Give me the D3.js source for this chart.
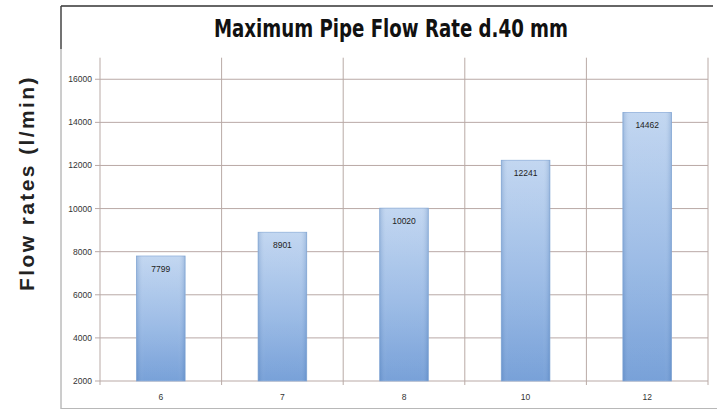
<!DOCTYPE html>
<html><head><meta charset="utf-8">
<script src="https://cdn.jsdelivr.net/npm/d3@7"></script>
<style>body{margin:0;background:#fff}svg{display:block}</style>
</head><body>
<svg id="c" width="717" height="410"></svg>
<script>
const categories = ["6","7","8","10","12"];
const values = [7799, 8901, 10020, 12241, 14462];
const yTicks = [2000,4000,6000,8000,10000,12000,14000,16000];
const title = "Maximum Pipe Flow Rate d.40 mm";
const yTitle = "Flow rates (l/min)";

const svg = d3.select("#c");
const L = 100, R = 708, T = 57.7, B = 381;
const x = d3.scaleBand().domain(categories).range([L, R]).paddingInner(0.6).paddingOuter(0.3);
const xg = d3.scaleBand().domain(categories).range([L, R]);
const y = d3.scaleLinear().domain([2000, 17000]).range([B, T]);

const defs = svg.append("defs");
const g1 = defs.append("linearGradient").attr("id","bv").attr("x1",0).attr("y1",0).attr("x2",0).attr("y2",1);
g1.append("stop").attr("offset","0%").attr("stop-color","#c0d5f0");
g1.append("stop").attr("offset","55%").attr("stop-color","#98b9e5");
g1.append("stop").attr("offset","100%").attr("stop-color","#719cd6");
const g2 = defs.append("linearGradient").attr("id","bh").attr("x1",0).attr("y1",0).attr("x2",1).attr("y2",0);
g2.append("stop").attr("offset","0%").attr("stop-color","#3a6aa8").attr("stop-opacity",0.25);
g2.append("stop").attr("offset","15%").attr("stop-color","#ffffff").attr("stop-opacity",0.05);
g2.append("stop").attr("offset","85%").attr("stop-color","#ffffff").attr("stop-opacity",0.05);
g2.append("stop").attr("offset","100%").attr("stop-color","#3a6aa8").attr("stop-opacity",0.25);

// frame
svg.append("line").attr("x1",61).attr("x2",713).attr("y1",6).attr("y2",6).attr("stroke","#333").attr("stroke-width",1.5);
svg.append("line").attr("x1",61).attr("x2",61).attr("y1",6).attr("y2",49).attr("stroke","#444").attr("stroke-width",1.5);
svg.append("line").attr("x1",61).attr("x2",61).attr("y1",49).attr("y2",409).attr("stroke","#9a9a9a").attr("stroke-width",1);
svg.append("line").attr("x1",61).attr("x2",717).attr("y1",408.5).attr("y2",408.5).attr("stroke","#b8b8b8").attr("stroke-width",1);

// title
svg.append("text").attr("x",391).attr("y",37).attr("text-anchor","middle")
  .attr("font-family","'DejaVu Sans Condensed','DejaVu Sans'").attr("font-stretch","condensed")
  .attr("font-weight","bold").attr("font-size",25).attr("fill","#111")
  .attr("textLength",354).attr("lengthAdjust","spacingAndGlyphs").text(title);

// y axis title
svg.append("text").attr("transform","translate(34,183) rotate(-90)").attr("text-anchor","middle")
  .attr("font-family","'Liberation Sans',Arial").attr("font-weight","bold").attr("font-size",21)
  .attr("letter-spacing",2.4).attr("fill","#222").text(yTitle);

// horizontal gridlines
svg.append("g").selectAll("line").data(yTicks).join("line")
  .attr("x1",95).attr("x2",R).attr("y1",d=>y(d)).attr("y2",d=>y(d))
  .attr("stroke","#b9a9a6").attr("stroke-width",1);
// vertical gridlines
const vx = categories.map(c=>xg(c)).concat([R]);
svg.append("g").selectAll("line").data(vx).join("line")
  .attr("x1",d=>d).attr("x2",d=>d).attr("y1",T).attr("y2",B+4)
  .attr("stroke","#b9aaa6").attr("stroke-width",1);

// y tick labels
svg.append("g").selectAll("text").data(yTicks).join("text")
  .attr("x",92).attr("y",d=>y(d)+3).attr("text-anchor","end")
  .attr("font-family","'Liberation Sans',Arial").attr("font-size",8.5).attr("fill","#333")
  .text(d=>d);

// bars
const bars = svg.append("g");
bars.selectAll("rect.b").data(values).join("rect").attr("class","b")
  .attr("x",(d,i)=>x(categories[i])).attr("width",x.bandwidth())
  .attr("y",d=>y(d)).attr("height",d=>B-y(d)).attr("fill","url(#bv)")
  .attr("stroke","#8fb0da").attr("stroke-width",0.8);
bars.selectAll("rect.h").data(values).join("rect").attr("class","h")
  .attr("x",(d,i)=>x(categories[i])).attr("width",x.bandwidth())
  .attr("y",d=>y(d)).attr("height",d=>B-y(d)).attr("fill","url(#bh)");

// value labels
svg.append("g").selectAll("text").data(values).join("text")
  .attr("x",(d,i)=>x(categories[i])+x.bandwidth()/2).attr("y",d=>y(d)+16)
  .attr("text-anchor","middle").attr("font-family","'Liberation Sans',Arial")
  .attr("font-size",8.5).attr("fill","#222").text(d=>d);

// x labels
svg.append("g").selectAll("text").data(categories).join("text")
  .attr("x",d=>x(d)+x.bandwidth()/2).attr("y",400).attr("text-anchor","middle")
  .attr("font-family","'Liberation Sans',Arial").attr("font-size",8.5).attr("fill","#333")
  .text(d=>d);
</script>
</body></html>
